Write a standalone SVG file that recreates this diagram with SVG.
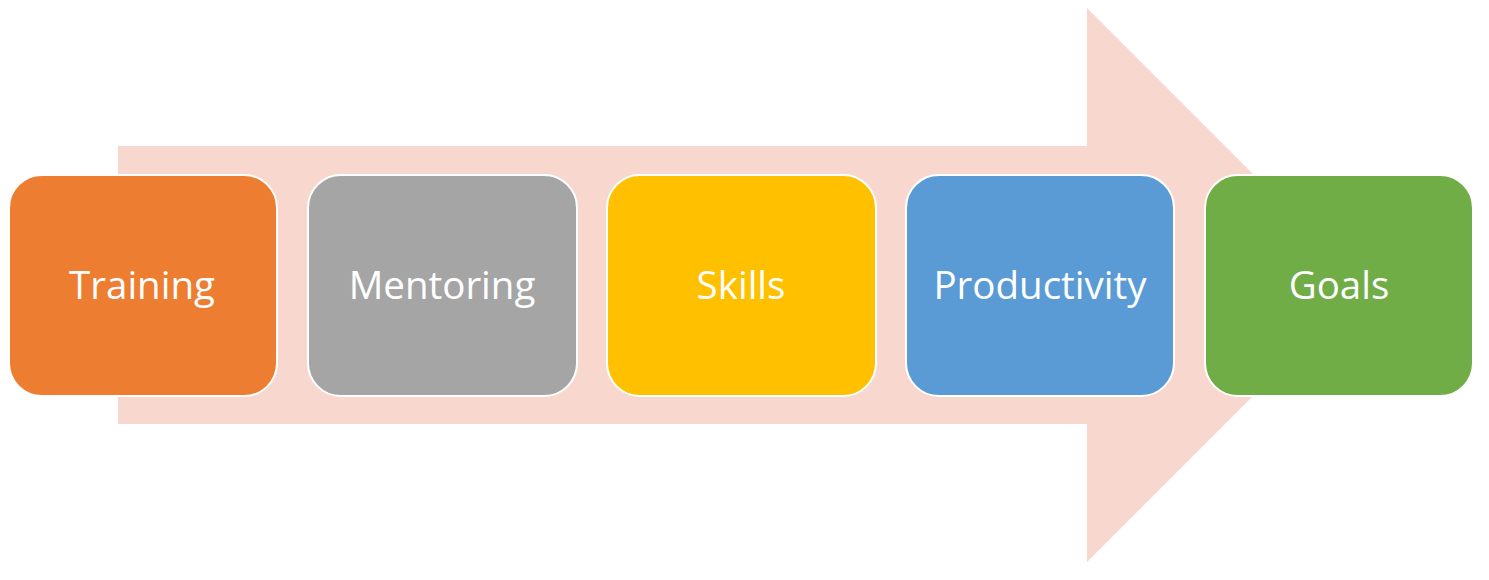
<svg xmlns="http://www.w3.org/2000/svg" width="1489" height="580" viewBox="0 0 1489 580">
<style>
.box{stroke:#ffffff;stroke-width:2}
.lbl{font-family:"Open Sans","Noto Sans",sans-serif;font-size:38.5px;fill:#ffffff;text-anchor:middle}
</style>
<rect width="1489" height="580" fill="#ffffff"/>
<g id="arrow">
<polygon points="118,146 1087,146 1087,8 1364,285 1087,562 1087,424 118,424" fill="#F8D8CE"/>
</g>
<g id="connectors"></g>
<g id="training">
<rect class="box" x="9" y="175" width="268" height="221" rx="33" fill="#ED7D31"/>
<text class="lbl" x="142" y="299">Training</text>
</g>
<g id="mentoring">
<rect class="box" x="308" y="175" width="269" height="221" rx="33" fill="#A5A5A5"/>
<text class="lbl" x="442" y="299">Mentoring</text>
</g>
<g id="skills">
<rect class="box" x="607" y="175" width="269" height="221" rx="33" fill="#FFC000"/>
<text class="lbl" x="741" y="299">Skills</text>
</g>
<g id="productivity">
<rect class="box" x="906" y="175" width="268" height="221" rx="33" fill="#5B9BD5"/>
<text class="lbl" x="1040" y="299">Productivity</text>
</g>
<g id="goals">
<rect class="box" x="1205" y="175" width="268" height="221" rx="33" fill="#70AD47"/>
<text class="lbl" x="1339" y="299">Goals</text>
</g>
</svg>
